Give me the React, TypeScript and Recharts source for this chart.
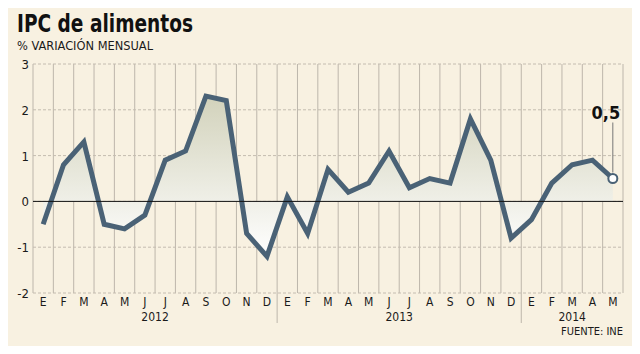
import React from 'react';
import {
  ComposedChart,
  Area,
  XAxis,
  YAxis,
  CartesianGrid,
  ReferenceLine,
} from 'recharts';

const monthLabels = [
  'E', 'F', 'M', 'A', 'M', 'J', 'J', 'A', 'S', 'O', 'N', 'D',
  'E', 'F', 'M', 'A', 'M', 'J', 'J', 'A', 'S', 'O', 'N', 'D',
  'E', 'F', 'M', 'A', 'M',
];

const years = ['2012', '2013', '2014'];
const yearStarts = [0, 12, 24];
const yearCounts = [12, 12, 5];

const ipcValues = [
  -0.5, 0.8, 1.3, -0.5, -0.6, -0.3, 0.9, 1.1, 2.3, 2.2, -0.7, -1.2,
  0.1, -0.7, 0.7, 0.2, 0.4, 1.1, 0.3, 0.5, 0.4, 1.8, 0.9, -0.8,
  -0.4, 0.4, 0.8, 0.9, 0.5,
];

const yTicks = [-2, -1, 0, 1, 2, 3];
const lastLabel = '0,5';

const data = ipcValues.map((v, i) => ({ id: i, mes: monthLabels[i], v }));

const W = 640;
const H = 354;
const LEFT = 33;
const RIGHT = 17;
const TOP = 64;
const BOTTOM = 61;
const X_AXIS_H = 30;
const PLOT_W = W - LEFT - RIGHT;
const PLOT_BOTTOM = H - BOTTOM;
const BAND = PLOT_W / data.length;

const FONT = '"DejaVu Sans Condensed", "DejaVu Sans", Tahoma, sans-serif';
const LINE = '#4a6276';
const GRID = '#bdb6ab';

const MonthTick = (props: any) => {
  const { x, payload, index } = props;
  const i = payload.value as number;
  const yi = yearStarts.indexOf(i);
  return (
    <g key={`t-${index}`}>
      <text x={x} y={PLOT_BOTTOM + 13} textAnchor="middle" fontSize={12} fontFamily={FONT} fill="#1a1a1a">
        {monthLabels[i]}
      </text>
      {yi > 0 && (
        <line x1={x - BAND / 2} x2={x - BAND / 2} y1={PLOT_BOTTOM} y2={PLOT_BOTTOM + 30} stroke={GRID} strokeWidth={1} />
      )}
      {yi >= 0 && (
        <text
          x={x - BAND / 2 + (yearCounts[yi] * BAND) / 2}
          y={PLOT_BOTTOM + 28}
          textAnchor="middle"
          fontSize={12}
          fontFamily={FONT}
          fill="#1a1a1a"
        >
          {years[yi]}
        </text>
      )}
    </g>
  );
};

const ValueTick = (props: any) => {
  const { y, payload } = props;
  return (
    <text x={29} y={y + 5} textAnchor="end" fontSize={13} fontFamily={FONT} fill="#1a1a1a">
      {payload.value}
    </text>
  );
};

const LastDot = (props: any) => {
  const { cx, cy, index } = props;
  if (index !== data.length - 1) return <g key={`d-${index}`} />;
  return (
    <g key={`d-${index}`}>
      <line x1={cx} x2={cx} y1={cy - 6} y2={cy - 56} stroke="#777" strokeWidth={1} />
      <text x={cx - 7} y={cy - 60} textAnchor="middle" fontSize={18} fontWeight="bold" fontFamily={FONT} fill="#111">
        {lastLabel}
      </text>
      <circle cx={cx} cy={cy} r={4.5} fill="#fff" stroke={LINE} strokeWidth={2} />
    </g>
  );
};

export default function App() {
  return (
    <div style={{ position: 'relative', width: W, height: H, margin: -8, background: '#f8f1e1' }}>
      <ComposedChart
        width={W}
        height={H}
        data={data}
        margin={{ top: TOP, right: RIGHT, bottom: BOTTOM - X_AXIS_H, left: 0 }}
      >
        <defs>
          <linearGradient id="ipcFill" x1="0" y1="0" x2="0" y2="1">
            <stop offset="0%" stopColor="#d2d2bb" />
            <stop offset="100%" stopColor="#ffffff" />
          </linearGradient>
        </defs>
        <CartesianGrid horizontal={false} vertical stroke={GRID} strokeWidth={1}
          verticalCoordinatesGenerator={({ offset }: any) =>
            Array.from({ length: data.length + 1 }, (_, i) => offset.left + (i * offset.width) / data.length)
          }
        />
        <CartesianGrid vertical={false} horizontal stroke="#c4bcb0" strokeDasharray="3 2" />
        <XAxis
          dataKey="id"
          type="category"
          height={X_AXIS_H}
          axisLine={false}
          tickLine={false}
          interval={0}
          padding={{ left: BAND / 2, right: BAND / 2 }}
          tick={<MonthTick />}
        />
        <YAxis
          width={LEFT}
          domain={[-2, 3]}
          ticks={yTicks}
          axisLine={false}
          tickLine={false}
          tick={<ValueTick />}
        />
        <Area
          type="linear"
          dataKey="v"
          baseValue={0}
          stroke={LINE}
          strokeWidth={5}
          fill="url(#ipcFill)"
          fillOpacity={1}
          dot={LastDot}
          activeDot={false}
          isAnimationActive={false}
        />
        <ReferenceLine y={0} stroke="#111" strokeWidth={1} />
      </ComposedChart>
      <svg width={W} height={H} style={{ position: 'absolute', left: 0, top: 0, pointerEvents: 'none' }}>
        <text x={17} y={32} fontSize={24} fontWeight="bold" fontFamily={FONT} fill="#111" textLength={176} lengthAdjust="spacingAndGlyphs">
          IPC de alimentos
        </text>
        <text x={17} y={50} fontSize={12.5} fontFamily={FONT} fill="#1a1a1a" textLength={136} lengthAdjust="spacingAndGlyphs">
          % VARIACIÓN MENSUAL
        </text>
        <text x={623} y={335} textAnchor="end" fontSize={11} fontFamily={FONT} fill="#1a1a1a">
          FUENTE: INE
        </text>
        <rect x={0.75} y={0.75} width={W - 1.5} height={H - 1.5} fill="none" stroke="#e8a23a" strokeWidth={1.5} />
      </svg>
    </div>
  );
}
